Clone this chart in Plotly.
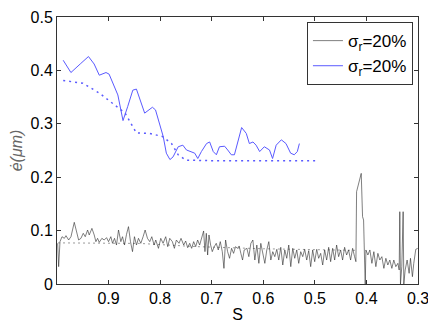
import plotly.graph_objects as go

# blue solid curve
s_blue = [0.988, 0.973, 0.955, 0.939, 0.928, 0.918, 0.905, 0.899, 0.882, 0.872, 0.863,
          0.853, 0.846, 0.830, 0.815, 0.809, 0.794, 0.788, 0.781, 0.775, 0.765, 0.756,
          0.749, 0.739, 0.733, 0.727, 0.720, 0.710, 0.704, 0.697, 0.691, 0.685, 0.675,
          0.669, 0.662, 0.656, 0.649, 0.642, 0.633, 0.627, 0.620, 0.614, 0.607, 0.598,
          0.588, 0.582, 0.575, 0.565, 0.556, 0.547, 0.540, 0.534, 0.530]
e_blue = [0.419, 0.396, 0.412, 0.426, 0.412, 0.391, 0.396, 0.393, 0.354, 0.306, 0.332,
          0.363, 0.365, 0.320, 0.331, 0.326, 0.276, 0.245, 0.233, 0.238, 0.257, 0.260,
          0.251, 0.248, 0.245, 0.235, 0.248, 0.263, 0.266, 0.248, 0.242, 0.257, 0.258,
          0.251, 0.242, 0.242, 0.270, 0.293, 0.282, 0.263, 0.266, 0.260, 0.248, 0.257,
          0.251, 0.235, 0.260, 0.270, 0.263, 0.245, 0.242, 0.248, 0.263]

# blue dotted curve
s_blue_fit = [0.988, 0.950, 0.917, 0.885, 0.868, 0.846, 0.820, 0.795, 0.778, 0.765, 0.750, 0.700, 0.600, 0.498]
e_blue_fit = [0.381, 0.376, 0.357, 0.333, 0.320, 0.283, 0.282, 0.276, 0.263, 0.242, 0.232, 0.231, 0.231, 0.231]

# black noisy curve
s_black = [0.9987, 0.9968, 0.9942, 0.9903, 0.9858, 0.9826, 0.9774, 0.9729, 0.9665, 0.9620,
           0.9581, 0.9536, 0.9491, 0.9452, 0.9407, 0.9375, 0.9323, 0.9278, 0.9246, 0.9213,
           0.9181, 0.9130, 0.9085, 0.9039, 0.9001, 0.8956, 0.8923, 0.8885, 0.8846, 0.8807,
           0.8762, 0.8730, 0.8691, 0.8652, 0.8614, 0.8575, 0.8536, 0.8498, 0.8459, 0.8420,
           0.8375, 0.8330, 0.8291, 0.8246, 0.8201, 0.8162, 0.8117, 0.8085, 0.8033, 0.7988,
           0.7943, 0.7892, 0.7853, 0.7814, 0.7763, 0.7724, 0.7685, 0.7634, 0.7595, 0.7543,
           0.7505, 0.7466, 0.7427, 0.7389, 0.7350, 0.7311, 0.7273, 0.7234, 0.7195, 0.7157,
           0.7131, 0.7105, 0.7079, 0.7053, 0.7021, 0.6989, 0.6950, 0.6912, 0.6873, 0.6834,
           0.6795, 0.6763, 0.6731, 0.6692, 0.6654, 0.6615, 0.6576, 0.6538,
           0.6499, 0.6467, 0.6435, 0.6402, 0.6370, 0.6318, 0.6280, 0.6241, 0.6202, 0.6164,
           0.6125, 0.6086, 0.6048, 0.6009, 0.5970, 0.5932, 0.5893, 0.5854, 0.5816, 0.5777,
           0.5738, 0.5700, 0.5661, 0.5622, 0.5583, 0.5545, 0.5506, 0.5467, 0.5429, 0.5390,
           0.5351, 0.5313, 0.5274, 0.5235, 0.5197, 0.5158, 0.5119, 0.5081, 0.5042, 0.5003,
           0.4964, 0.4926, 0.4887, 0.4848, 0.4810, 0.4771, 0.4732, 0.4694, 0.4655, 0.4616,
           0.4578, 0.4539, 0.4500, 0.4462, 0.4423, 0.4384, 0.4346, 0.4307, 0.4268, 0.4230,
           0.4204, 0.4191, 0.4139, 0.4101, 0.4075, 0.4055, 0.4036, 0.4023, 0.4010, 0.3972,
           0.3933, 0.3894, 0.3856, 0.3817, 0.3778, 0.3740, 0.3701, 0.3662, 0.3623, 0.3585,
           0.3546, 0.3507, 0.3469, 0.3430, 0.3391, 0.3365, 0.3353, 0.3340, 0.3314, 0.3288,
           0.3275, 0.3249, 0.3211, 0.3172, 0.3146, 0.3108, 0.3082, 0.3043, 0.3005]
e_black = [0.0762, 0.0325, 0.0793, 0.0886, 0.0855, 0.0905, 0.0824, 0.0886, 0.1155, 0.0980,
           0.0824, 0.0855, 0.0949, 0.0886, 0.1011, 0.0918, 0.1042, 0.0918, 0.0793, 0.0855,
           0.0780, 0.0855, 0.0824, 0.0868, 0.0793, 0.0886, 0.0762, 0.0855, 0.0730, 0.1011,
           0.0793, 0.0886, 0.0730, 0.0930, 0.1074, 0.0793, 0.0606, 0.0886, 0.0730, 0.0855,
           0.0762, 0.0886, 0.1011, 0.0855, 0.0793, 0.0886, 0.0730, 0.0824, 0.0668, 0.0855,
           0.0762, 0.0886, 0.0699, 0.0855, 0.0793, 0.0668, 0.0824, 0.0762, 0.0855, 0.0730,
           0.0805, 0.0680, 0.0762, 0.0668, 0.0793, 0.0699, 0.0824, 0.0730, 0.0855, 0.0993,
           0.0606, 0.0949, 0.0543, 0.0918, 0.0730, 0.0606, 0.0699, 0.0762, 0.0637, 0.0793,
           0.0606, 0.0293, 0.0824, 0.0606, 0.0481, 0.0668, 0.0574, 0.0699,
           0.0668, 0.0712, 0.0574, 0.0449, 0.0637, 0.0668, 0.0512, 0.0761, 0.0824, 0.0449,
           0.0730, 0.0387, 0.0761, 0.0543, 0.0387, 0.0637, 0.0793, 0.0449, 0.0605, 0.0512,
           0.0649, 0.0449, 0.0687, 0.0356, 0.0637, 0.0481, 0.0730, 0.0325, 0.0668, 0.0481,
           0.0637, 0.0387, 0.0605, 0.0512, 0.0649, 0.0449, 0.0624, 0.0325, 0.0637, 0.0418,
           0.0649, 0.0481, 0.0574, 0.0356, 0.0637, 0.0449, 0.0687, 0.0418, 0.0668, 0.0449,
           0.0730, 0.0512, 0.0637, 0.0449, 0.0687, 0.0543, 0.0637, 0.0449, 0.0668, 0.0512,
           0.0418, 0.1729, 0.1947, 0.2072, 0.1261, 0.1198, 0.0449, 0.0000, 0.0637, 0.0543,
           0.0637, 0.0387, 0.0605, 0.0325, 0.0574, 0.0449, 0.0512, 0.0293, 0.0481, 0.0356,
           0.0449, 0.0293, 0.0449, 0.0325, 0.0387, 0.0262, 0.1354, 0.0000, 0.0325, 0.1354,
           0.0000, 0.0262, 0.0449, 0.0200, 0.0481, 0.0137, 0.0387, 0.0649, 0.0668]

# black dotted curve
s_black_fit = [0.998, 0.840, 0.730, 0.600, 0.420]
e_black_fit = [0.077, 0.076, 0.070, 0.066, 0.063]

fig = go.Figure()

fig.add_trace(go.Scatter(x=s_black_fit, y=e_black_fit, mode='lines', showlegend=False,
                         line=dict(color='#9a9a9a', width=1, dash='2px,3px')))
fig.add_trace(go.Scatter(x=s_blue_fit, y=e_blue_fit, mode='lines', showlegend=False,
                         line=dict(color='#5a5aff', width=1.5, dash='2px,4px')))
fig.add_trace(go.Scatter(x=s_black, y=e_black, mode='lines', name='σ<sub>r</sub>=20%',
                         line=dict(color='#2a2a2a', width=0.6)))
fig.add_trace(go.Scatter(x=s_blue, y=e_blue, mode='lines', name='σ<sub>r</sub>=20%',
                         line=dict(color='#5a5aff', width=1)))

axis_style = dict(showline=True, mirror='ticks', linecolor='#333333', linewidth=1,
                  ticks='inside', ticklen=4, tickcolor='#333333', showgrid=False,
                  zeroline=False, automargin=False, tickfont=dict(size=16, color='black'))

fig.update_xaxes(range=[1.0, 0.3], tickvals=[0.9, 0.8, 0.7, 0.6, 0.5, 0.4, 0.3],
                 title=dict(text='S', font=dict(size=16, color='black'), standoff=2),
                 **axis_style)
fig.update_yaxes(range=[0, 0.5], tickvals=[0, 0.1, 0.2, 0.3, 0.4, 0.5],
                 title=dict(text='<i>ė(μm)</i>', font=dict(size=16, color='#666666'), standoff=6),
                 **axis_style)

# the page body adds an 8px offset, so the figure is sized to fit inside the window
fig.update_layout(
    width=428, height=319,
    margin=dict(l=49, r=18, t=9, b=43),
    plot_bgcolor='white', paper_bgcolor='white',
    font=dict(family='Liberation Sans, Arial, sans-serif'),
    legend=dict(x=0.986, y=0.981, xanchor='right', yanchor='top',
                bgcolor='white', bordercolor='#333333', borderwidth=1,
                font=dict(size=17, color='black'), tracegroupgap=0),
)

fig.write_html("out.html")
